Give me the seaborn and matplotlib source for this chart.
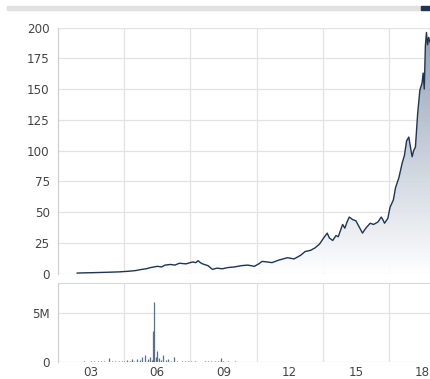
import numpy as np
import pandas as pd
import seaborn as sns
import matplotlib.pyplot as plt
from matplotlib.patches import Rectangle
from matplotlib.colors import LinearSegmentedColormap

# price history (fractional year, close)
price_years = [2003.86, 2004.2, 2004.5, 2004.9, 2005.3, 2005.8, 2006.2, 2006.5, 2006.8, 2007.0,
               2007.2, 2007.5, 2007.7, 2007.85, 2008.1, 2008.3, 2008.5, 2008.8, 2009.1, 2009.25,
               2009.35, 2009.45, 2009.55, 2009.8, 2010.0, 2010.2, 2010.45, 2010.7, 2011.0, 2011.3,
               2011.6, 2011.9, 2012.1, 2012.25, 2012.5, 2012.7, 2013.0, 2013.2, 2013.4, 2013.7,
               2014.0, 2014.2, 2014.45, 2014.65, 2014.85, 2015.0, 2015.2, 2015.3, 2015.45, 2015.6,
               2015.7, 2015.8, 2015.9, 2016.0, 2016.1, 2016.2, 2016.28, 2016.35, 2016.5, 2016.65,
               2016.8, 2016.95, 2017.15, 2017.3, 2017.5, 2017.65, 2017.72, 2017.8, 2017.95, 2018.05,
               2018.2, 2018.3, 2018.45, 2018.6, 2018.7, 2018.8, 2018.9, 2019.0, 2019.05, 2019.12,
               2019.2, 2019.3, 2019.4, 2019.5, 2019.55, 2019.6, 2019.65, 2019.7, 2019.75, 2019.8,
               2019.86]
price_close = [0.5, 0.7, 0.8, 1.0, 1.2, 1.5, 2.0, 2.5, 3.5, 4.0,
               5.0, 6.0, 5.5, 7.0, 7.5, 7.0, 8.5, 8.0, 9.5, 9.0,
               10.6, 9.0, 8.0, 6.5, 3.5, 4.5, 4.0, 5.0, 5.5, 6.5,
               7.0, 6.0, 8.0, 10.0, 9.5, 9.0, 11.0, 12.0, 13.0, 12.0,
               15.0, 18.0, 19.0, 21.0, 24.0, 28.0, 33.0, 29.0, 27.0, 31.0,
               30.0, 35.0, 40.0, 37.0, 42.0, 46.0, 45.0, 44.0, 43.0, 38.0,
               33.0, 37.0, 41.0, 40.0, 42.0, 46.0, 44.0, 41.0, 45.0, 54.0,
               60.0, 70.0, 78.0, 90.0, 96.0, 108.0, 111.0, 100.0, 95.0, 100.0,
               103.0, 130.0, 149.0, 155.0, 163.0, 150.0, 185.0, 196.0, 186.0, 192.0,
               188.0]

# daily volume (fractional year, shares)
volume_years = [2003.9, 2004.05, 2004.2, 2004.35, 2004.5, 2004.65, 2004.8, 2004.95, 2005.1, 2005.3,
                2005.45, 2005.6, 2005.75, 2005.9, 2006.0, 2006.13, 2006.25, 2006.34, 2006.45, 2006.58,
                2006.7, 2006.8, 2006.94, 2007.08, 2007.17, 2007.25, 2007.32, 2007.35, 2007.44, 2007.5,
                2007.6, 2007.68, 2007.76, 2007.88, 2007.98, 2008.1, 2008.26, 2008.4, 2008.6, 2008.75,
                2008.9, 2009.05, 2009.2, 2009.35, 2009.5, 2009.65, 2009.8, 2009.95, 2010.1, 2010.25,
                2010.37, 2010.5, 2010.7, 2010.85, 2011.0, 2011.15, 2011.3, 2011.45, 2011.6, 2011.75,
                2011.9, 2012.05, 2012.2, 2012.35, 2012.5, 2012.65, 2012.8, 2012.95, 2013.1, 2013.25,
                2013.4, 2013.55, 2013.7, 2013.85, 2014.0, 2014.15, 2014.3, 2014.45, 2014.6, 2014.75,
                2014.9, 2015.05, 2015.2, 2015.35, 2015.5, 2015.65, 2015.8, 2015.95, 2016.1, 2016.25,
                2016.4, 2016.55, 2016.7, 2016.85, 2017.0, 2017.15, 2017.3, 2017.45, 2017.6, 2017.75,
                2017.9, 2018.05, 2018.2, 2018.35, 2018.5, 2018.65, 2018.8, 2018.95, 2019.1, 2019.25,
                2019.4, 2019.55, 2019.7, 2019.82]
volume_shares = [0.05e6, 0.04e6, 0.08e6, 0.05e6, 0.06e6, 0.07e6, 0.1e6, 0.06e6, 0.08e6, 0.45e6,
                 0.08e6, 0.12e6, 0.07e6, 0.1e6, 0.09e6, 0.25e6, 0.12e6, 0.3e6, 0.15e6, 0.3e6,
                 0.2e6, 0.5e6, 0.7e6, 0.3e6, 0.5e6, 0.2e6, 3.2e6, 6.1e6, 0.5e6, 1.1e6,
                 0.4e6, 0.2e6, 0.7e6, 0.2e6, 0.3e6, 0.15e6, 0.5e6, 0.1e6, 0.1e6, 0.07e6,
                 0.08e6, 0.06e6, 0.06e6, 0.05e6, 0.05e6, 0.06e6, 0.08e6, 0.06e6, 0.1e6, 0.07e6,
                 0.4e6, 0.08e6, 0.1e6, 0.05e6, 0.06e6, 0.05e6, 0.05e6, 0.04e6, 0.04e6, 0.05e6,
                 0.05e6, 0.04e6, 0.04e6, 0.03e6, 0.03e6, 0.04e6, 0.04e6, 0.03e6, 0.03e6, 0.04e6,
                 0.04e6, 0.03e6, 0.03e6, 0.04e6, 0.04e6, 0.03e6, 0.03e6, 0.04e6, 0.03e6, 0.03e6,
                 0.04e6, 0.03e6, 0.03e6, 0.04e6, 0.03e6, 0.03e6, 0.04e6, 0.03e6, 0.03e6, 0.04e6,
                 0.03e6, 0.03e6, 0.04e6, 0.03e6, 0.03e6, 0.04e6, 0.03e6, 0.04e6, 0.03e6, 0.03e6,
                 0.04e6, 0.03e6, 0.04e6, 0.03e6, 0.04e6, 0.03e6, 0.04e6, 0.03e6, 0.04e6, 0.03e6,
                 0.04e6, 0.03e6, 0.04e6, 0.03e6]

x_label_pos = [2004.5, 2007.5, 2010.5, 2013.5, 2016.5, 2019.5]
x_labels = ['03', '06', '09', '12', '15', '18']
x_grid = [2006, 2009, 2012, 2015, 2018]

df_price = pd.DataFrame({'year': price_years, 'close': price_close})
df_vol = pd.DataFrame({'year': volume_years, 'volume': volume_shares})

sns.set_style('white')
plt.rcParams['font.family'] = ['DejaVu Sans']

line_color = '#1d3557'
grid_color = '#e3e3e3'
text_color = '#444444'
xmin, xmax = 2003.0, 2019.86

fig = plt.figure(figsize=(4.3, 3.79), dpi=100)

# range bar across the top
fig.patches.append(Rectangle((7 / 430, 1 - 9.5 / 379), 414 / 430, 3.5 / 379,
                             transform=fig.transFigure, color='#e0e0e0', zorder=0))
fig.patches.append(Rectangle((421 / 430, 1 - 9.5 / 379), 9 / 430, 3.5 / 379,
                             transform=fig.transFigure, color='#1d3557', zorder=0))

ax = fig.add_axes([58 / 430, 1 - 273.7 / 379, 1 - 58 / 430, (273.7 - 27.5) / 379])
axv = fig.add_axes([58 / 430, 1 - 362 / 379, 1 - 58 / 430, (362 - 283.3) / 379])

# gradient fill under the price line
cmap = LinearSegmentedColormap.from_list('fade', ['#ffffff', '#8b9ab1'])
grad = np.linspace(0, 1, 256).reshape(-1, 1)
img = ax.imshow(grad, cmap=cmap, aspect='auto', origin='lower',
                extent=[xmin, xmax, 0, 200], zorder=1, alpha=0.95)
poly = ax.fill_between(df_price['year'], df_price['close'], 0, color='none')
clip = poly.get_paths()[0]
img.set_clip_path(clip, transform=ax.transData)

sns.lineplot(data=df_price, x='year', y='close', ax=ax, color=line_color, linewidth=1.0, zorder=3)

ax.set_xlim(xmin, xmax)
ax.set_ylim(0, 200)
ax.set_yticks(range(0, 201, 25))
ax.set_xticks(x_grid)
ax.set_xticklabels([])
ax.grid(True, color=grid_color, linewidth=0.9, zorder=0)
ax.set_axisbelow(True)
ax.set_xlabel(None)
ax.set_ylabel(None)

# volume bars
axv.vlines(df_vol['year'], 0, df_vol['volume'], color='#5b6f86', linewidth=0.9, zorder=3)
axv.set_xlim(xmin, xmax)
axv.set_ylim(0, 8.05e6)
axv.set_yticks([0, 5e6])
axv.set_yticklabels(['0', '5M'])
axv.set_xticks(x_grid)
axv.set_xticklabels([])
axv.set_xticks(x_label_pos, minor=True)
axv.set_xticklabels(x_labels, minor=True)
axv.grid(True, color=grid_color, linewidth=0.9, zorder=0)
axv.set_axisbelow(True)

for a in (ax, axv):
    for side in ('right', 'top', 'bottom'):
        a.spines[side].set_visible(False)
    a.spines['left'].set_color('#d0d0d0')
    a.spines['left'].set_linewidth(0.9)
    a.tick_params(axis='y', which='major', length=5, width=0.8, color=text_color,
                  labelsize=8.6, labelcolor=text_color, pad=1)
    a.tick_params(axis='x', which='both', length=0, labelsize=8.6, labelcolor=text_color, pad=3)

axv.spines['top'].set_visible(True)
axv.spines['top'].set_color('#d8d8d8')

fig.savefig('out.png', dpi=100)
